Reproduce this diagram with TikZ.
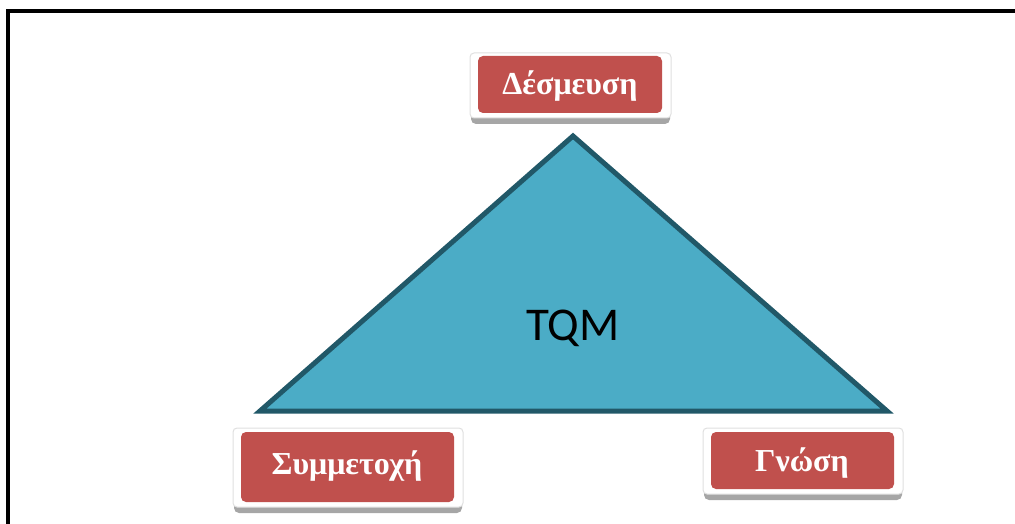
\documentclass[tikz,border=0pt]{standalone}
\usepackage{fontspec}
\setmainfont{Liberation Serif}
\newfontfamily\labelsans{Carlito}
\definecolor{boxred}{HTML}{C0504D}
\definecolor{trifill}{HTML}{4BACC6}
\definecolor{triedge}{HTML}{215868}
\definecolor{shadowgrey}{HTML}{A6A6A6}
\begin{document}
\begin{tikzpicture}[x=1pt,y=-1pt,
  framebox/.style={draw=black!12,line width=1pt,fill=white,rounded corners=4pt},
  tagbox/.style={fill=boxred,rounded corners=5pt},
  tagtext/.style={text=white,font=\fontsize{32}{36}\selectfont\bfseries},
  dropshade/.style={fill=shadowgrey,rounded corners=5pt}]
\useasboundingbox (0,0) rectangle (1015,524);
\clip (0,0) rectangle (1015,524);
% outer frame
\draw[line width=4pt] (8,11) rectangle (1040,560);
% triangle
\draw[fill=trifill,draw=triedge,line width=5pt,line join=miter]
  (573,136) -- (887,411) -- (260,411) -- cycle;
\node[font=\labelsans\fontsize{47}{50}\selectfont] (tqm) at (573,328) {TQM};
% Δέσμευση
\fill[dropshade] (471,58) rectangle (670,124);
\draw[framebox] (470,53) rectangle (671,118);
\fill[tagbox] (478,56) rectangle (662,113);
\node[tagtext] (desm) at (570,86) {Δέσμευση};
% Συμμετοχή
\fill[dropshade] (234,437) rectangle (462,513);
\draw[framebox] (233,428) rectangle (463,507);
\fill[tagbox] (241,432) rectangle (454,502);
\node[tagtext] (symm) at (347,466) {Συμμετοχή};
% Γνώση
\fill[dropshade] (704,437) rectangle (902,500);
\draw[framebox] (703,428) rectangle (903,494);
\fill[tagbox] (711,432) rectangle (894,489);
\node[tagtext] (gnosi) at (802,463) {Γνώση};
\end{tikzpicture}
\end{document}
